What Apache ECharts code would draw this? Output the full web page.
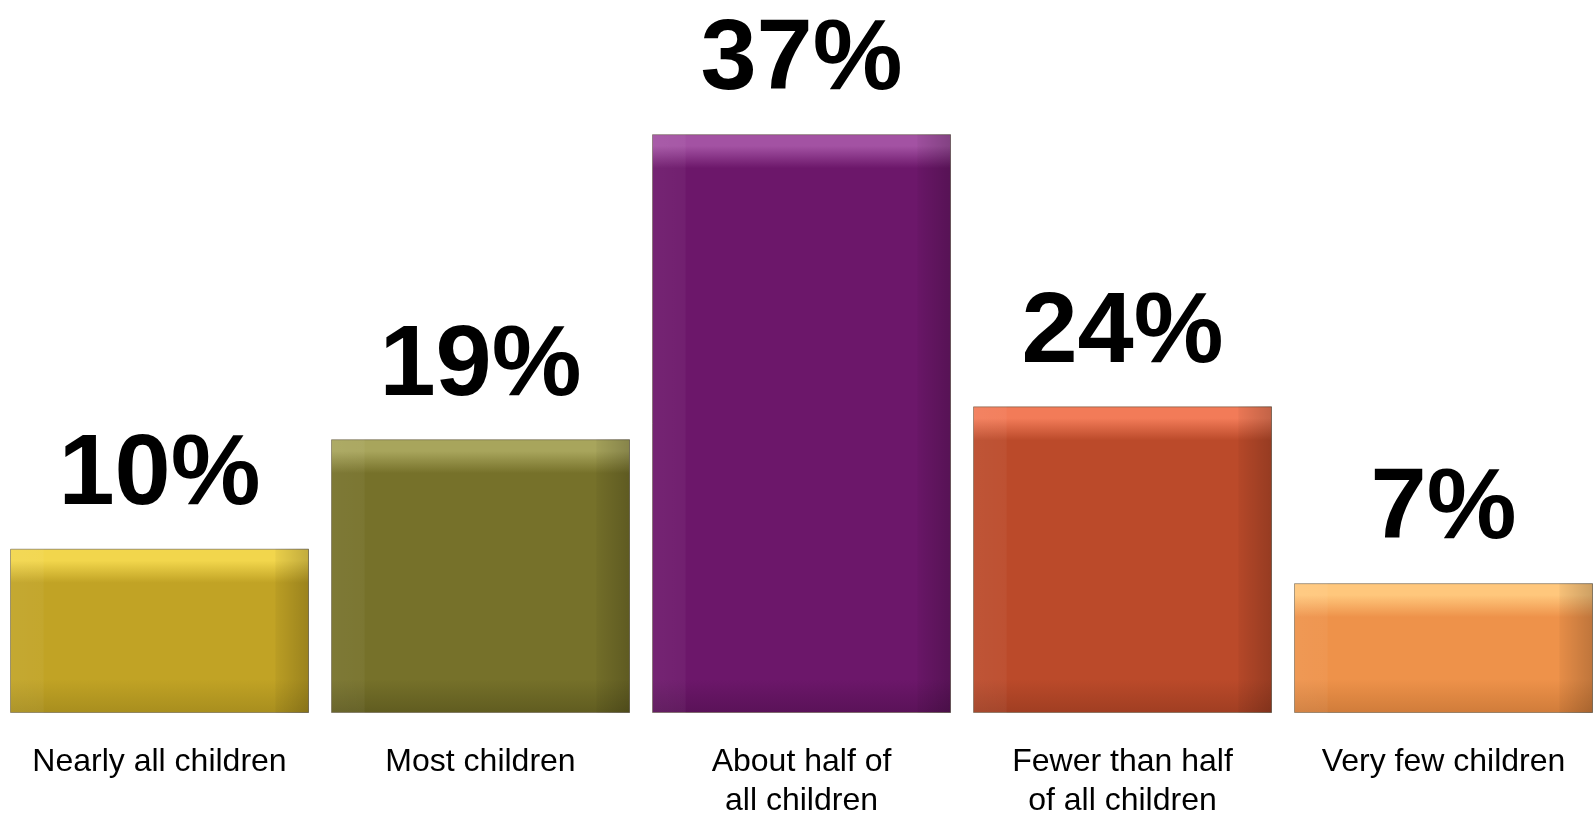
<!DOCTYPE html>
<html>
<head>
<meta charset="utf-8">
<script src="https://cdn.jsdelivr.net/npm/echarts@6/dist/echarts.min.js"></script>
<style>
html,body{margin:0;padding:0;background:#fff;}
#chart{width:1594px;height:814px;}
</style>
</head>
<body>
<div id="chart"></div>
<script>
// ---- data ----
const categories = ['Nearly all children', 'Most children', 'About half of\nall children', 'Fewer than half\nof all children', 'Very few children'];
// bar heights as drawn in the picture (percent units)
const barValues = [10.5, 17.5, 37, 19.6, 8.3];
// printed labels
const shareLabels = ['10%', '19%', '37%', '24%', '7%'];

// ---- styling ----
const palette = [
  { main: '#C1A325', light: '#F2D64C', dark: '#A88E1E' },
  { main: '#76712A', light: '#A8A55C', dark: '#605C20' },
  { main: '#6C176A', light: '#A352A3', dark: '#5A1258' },
  { main: '#BB4A2A', light: '#F27B58', dark: '#A03E22' },
  { main: '#EE924A', light: '#FFC77C', dark: '#D07C3A' }
];
const yMax = 45;
const gridTop = 9, gridBottom = 101;
const plotH = 814 - gridTop - gridBottom;
const bevel = 34;

const chart = echarts.init(document.getElementById('chart'));
const mainData = barValues.map((v, i) => {
  const px = v / yMax * plotH;
  const f = Math.min(0.45, bevel / px);
  const c = palette[i];
  return {
    value: v,
    itemStyle: {
      color: new echarts.graphic.LinearGradient(0, 0, 0, 1, [
        { offset: 0, color: c.light },
        { offset: f * 0.35, color: c.light },
        { offset: f, color: c.main },
        { offset: 1 - f, color: c.main },
        { offset: 1, color: c.dark }
      ]),
      borderColor: 'rgba(90,80,60,0.55)',
      borderWidth: 1
    }
  };
});

chart.setOption({
  animation: false,
  grid: { left: -1, top: gridTop, bottom: gridBottom, width: 1605, containLabel: false, outerBoundsMode: 'none' },
  xAxis: {
    type: 'category',
    data: categories,
    axisLine: { show: false },
    axisTick: { show: false },
    axisLabel: {
      interval: 0,
      margin: 30,
      fontFamily: '"Liberation Sans", Arial, sans-serif',
      fontSize: 32,
      lineHeight: 39,
      color: '#000'
    }
  },
  yAxis: { type: 'value', min: 0, max: yMax, show: false, splitLine: { show: false } },
  series: [
    {
      type: 'bar',
      data: mainData,
      barWidth: 299,
      label: {
        show: true,
        position: 'top',
        distance: 22,
        formatter: p => shareLabels[p.dataIndex],
        fontFamily: '"Liberation Sans", Arial, sans-serif',
        fontWeight: 'bold',
        fontSize: 101,
        color: '#000'
      }
    },
    {
      type: 'bar',
      data: barValues,
      barWidth: 299,
      barGap: '-100%',
      silent: true,
      itemStyle: {
        color: new echarts.graphic.LinearGradient(0, 0, 1, 0, [
          { offset: 0, color: 'rgba(255,255,255,0.06)' },
          { offset: 0.11, color: 'rgba(255,255,255,0.04)' },
          { offset: 0.115, color: 'rgba(255,255,255,0)' },
          { offset: 0.885, color: 'rgba(0,0,0,0)' },
          { offset: 0.89, color: 'rgba(0,0,0,0.04)' },
          { offset: 1, color: 'rgba(0,0,0,0.2)' }
        ])
      }
    }
  ]
});
</script>
</body>
</html>
